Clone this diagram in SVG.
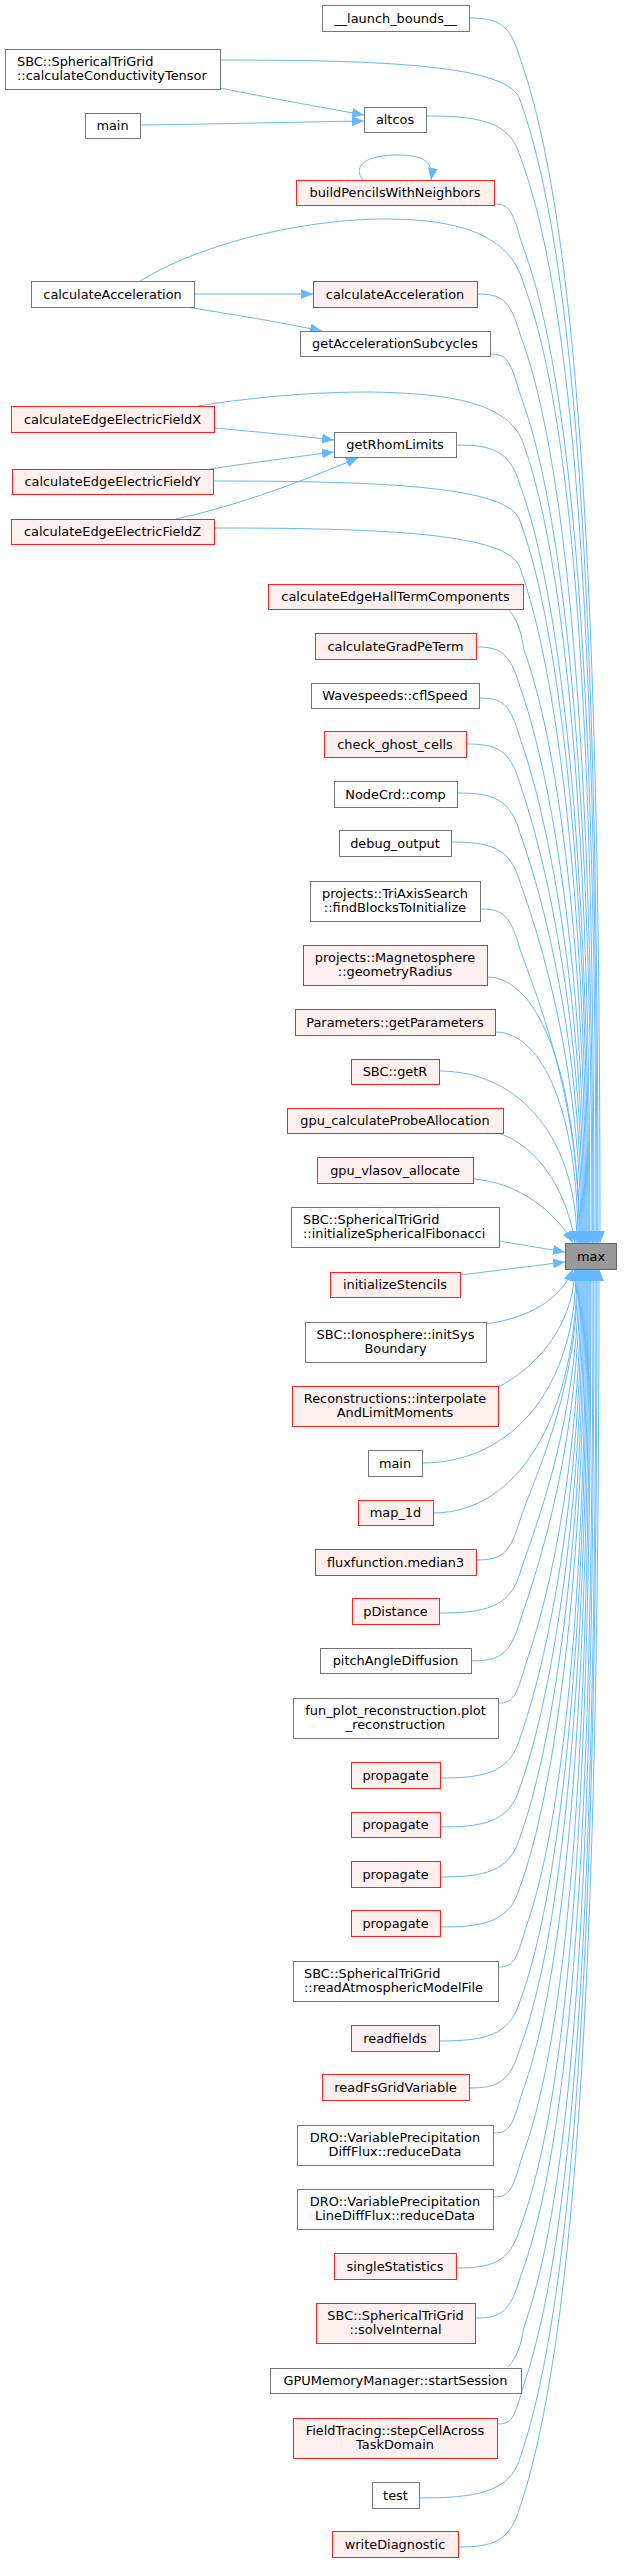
<svg xmlns="http://www.w3.org/2000/svg" width="624" height="2563" viewBox="0 0 624 2563">
<style>
.n rect{fill:#ffffff;stroke:#777777;stroke-width:1}
.r rect{fill:#fff0f0;stroke:#ff2020;stroke-width:1}
.root rect{fill:#999999;stroke:#666666;stroke-width:1}
text{font-family:"DejaVu Sans","Liberation Sans",sans-serif;font-size:12.9px;fill:#000000}
.c{text-anchor:middle}
#edges path{fill:none;stroke:#63b8ff;stroke-width:1;marker-end:url(#ah)}
</style>
<defs>
<marker id="ah" viewBox="0 0 12 10" refX="12" refY="5" markerWidth="12" markerHeight="10" markerUnits="userSpaceOnUse" orient="auto">
<path d="M0,0 L12,5 L0,10 z" fill="#63b8ff"/>
</marker>
</defs>
<rect width="624" height="2563" fill="#ffffff"/>
<g id="edges">
<path d="M469,18 C497,18 510,23 520,58 C583,236 600,650 600,1243"/>
<path d="M220,60 C385,60 510,65 520,100 C582,271 598,671 598,1243"/>
<path d="M426,116 C478,116 510,121 520,156 C581,319 597,699 597,1243"/>
<path d="M494,204 C509,204 512,209 522,244 C579,394 596,744 596,1243"/>
<path d="M140,281 C210,238 320,218 390,219 C470,220 512,240 524,285 C578,429 594,764 594,1243"/>
<path d="M477,294 C501,294 510,299 520,334 C571,470 593,789 593,1243"/>
<path d="M490,354 C506,354 510,359 520,394 C568,521 592,819 592,1243"/>
<path d="M198,406 C260,396 320,392 368,392 C440,393 505,400 522,440 C567,560 590,842 590,1243"/>
<path d="M456,445 C491,445 510,450 520,485 C562,599 589,864 589,1243"/>
<path d="M213,481 C382,481 510,486 520,521 C560,629 588,882 588,1243"/>
<path d="M214,528 C382,528 510,533 520,568 C557,669 587,906 587,1243"/>
<path d="M508,609 C516,617 521,630 524,650 C557,739 586,947 586,1243"/>
<path d="M476,647 C500,647 510,652 520,687 C550,770 585,965 585,1243"/>
<path d="M479,698 C502,698 510,703 520,738 C547,814 584,991 584,1243"/>
<path d="M466,744 C496,744 510,749 520,784 C544,853 583,1014 583,1243"/>
<path d="M457,793 C492,793 510,798 520,833 C542,895 582,1038 582,1243"/>
<path d="M451,842 C489,842 510,847 520,882 C539,936 581,1063 581,1243"/>
<path d="M481,909 C502,909 510,914 520,949 C535,993 580,1096 580,1243"/>
<path d="M487,977 C541,977 579,1083 579,1243"/>
<path d="M495,1032 C544,1032 578,1116 578,1243"/>
<path d="M439,1071 C521,1071 577,1140 577,1243"/>
<path d="M498,1133 C537,1145 567,1190 575,1243"/>
<path d="M473,1179 C518,1182 556,1212 573,1243"/>
<path d="M499,1241 L565,1252"/>
<path d="M460,1275 L565,1262"/>
<path d="M486,1324 C528,1318 561,1300 573,1269"/>
<path d="M498,1387 C532,1370 573,1330 575,1269"/>
<path d="M422,1463 C514,1463 576,1385 576,1269"/>
<path d="M433,1513 C519,1513 577,1415 577,1269"/>
<path d="M476,1560 C500,1560 510,1555 520,1520 C532,1482 578,1394 578,1269"/>
<path d="M439,1613 C484,1613 510,1608 520,1573 C535,1527 579,1421 579,1269"/>
<path d="M471,1661 C498,1661 510,1656 520,1621 C538,1568 580,1445 580,1269"/>
<path d="M498,1703 C513,1703 516,1698 526,1663 C547,1604 581,1466 581,1269"/>
<path d="M440,1778 C484,1778 510,1773 520,1738 C545,1668 582,1503 582,1269"/>
<path d="M440,1827 C484,1827 510,1822 520,1787 C548,1709 583,1528 583,1269"/>
<path d="M440,1877 C484,1877 510,1872 520,1837 C551,1752 584,1553 584,1269"/>
<path d="M440,1927 C484,1927 510,1922 520,1887 C554,1794 585,1578 585,1269"/>
<path d="M498,1967 C513,1967 516,1962 526,1927 C562,1828 586,1598 586,1269"/>
<path d="M439,2041 C484,2041 510,2036 520,2001 C561,1891 587,1635 587,1269"/>
<path d="M469,2088 C497,2088 510,2083 520,2048 C564,1931 588,1658 588,1269"/>
<path d="M493,2133 C509,2133 512,2128 522,2093 C568,1969 589,1681 589,1269"/>
<path d="M493,2197 C509,2197 512,2192 522,2157 C572,2024 590,1713 590,1269"/>
<path d="M456,2268 C491,2268 510,2263 520,2228 C574,2084 591,1748 591,1269"/>
<path d="M475,2318 C500,2318 510,2313 520,2278 C577,2127 593,1773 593,1269"/>
<path d="M508,2367 C516,2359 521,2346 524,2327 C580,2168 594,1798 594,1269"/>
<path d="M497,2424 C512,2424 514,2419 524,2384 C581,2217 596,1826 596,1269"/>
<path d="M419,2498 C474,2498 510,2493 520,2458 C581,2280 597,1863 597,1269"/>
<path d="M458,2547 C492,2547 510,2542 520,2507 C582,2321 599,1888 599,1269"/>
<path d="M220,88 C270,98 320,107 364,115"/>
<path d="M140,125 C220,124 300,122 364,121"/>
<path d="M363,180 C352,166 366,155 397,155 C424,155 434,162 431,180"/>
<path d="M194,294 L313,294"/>
<path d="M186,307 C230,314 280,322 322,331"/>
<path d="M214,428 C260,432 300,436 334,440"/>
<path d="M210,469 C250,463 295,457 334,452"/>
<path d="M176,519 C240,505 300,482 358,458"/>
</g>
<g id="n1" class="n"><rect x="322.5" y="5.5" width="147" height="26"/><text class="c" x="395.5" y="22.5">__launch_bounds__</text></g>
<g id="n2" class="n"><rect x="5.5" y="49.5" width="215" height="40"/><text x="17" y="65.5">SBC::SphericalTriGrid</text><text x="17" y="79.5">::calculateConductivityTensor</text></g>
<g id="n3" class="n"><rect x="85.5" y="113.5" width="55" height="25"/><text class="c" x="112.5" y="130">main</text></g>
<g id="n4" class="n"><rect x="364.5" y="107.5" width="62" height="25"/><text class="c" x="395" y="124">altcos</text></g>
<g id="n5" class="r"><rect x="296.5" y="180.5" width="198" height="25"/><text class="c" x="395" y="197">buildPencilsWithNeighbors</text></g>
<g id="n6" class="n"><rect x="31.5" y="281.5" width="163" height="26"/><text class="c" x="112.5" y="298.5">calculateAcceleration</text></g>
<g id="n7" class="r"><rect x="313.5" y="281.5" width="164" height="26"/><text class="c" x="395" y="298.5">calculateAcceleration</text></g>
<g id="n8" class="n"><rect x="300.5" y="331.5" width="190" height="25"/><text class="c" x="395" y="348">getAccelerationSubcycles</text></g>
<g id="n9" class="r"><rect x="11.5" y="406.5" width="203" height="26"/><text class="c" x="112.5" y="423.5">calculateEdgeElectricFieldX</text></g>
<g id="n10" class="n"><rect x="334.5" y="432.5" width="122" height="25"/><text class="c" x="395" y="449">getRhomLimits</text></g>
<g id="n11" class="r"><rect x="12.5" y="469.5" width="201" height="25"/><text class="c" x="112.5" y="486">calculateEdgeElectricFieldY</text></g>
<g id="n12" class="r"><rect x="11.5" y="519.5" width="203" height="25"/><text class="c" x="112.5" y="536">calculateEdgeElectricFieldZ</text></g>
<g id="n13" class="r"><rect x="268.5" y="584.5" width="255" height="25"/><text class="c" x="395.5" y="601">calculateEdgeHallTermComponents</text></g>
<g id="n14" class="r"><rect x="315.5" y="633.5" width="161" height="26"/><text class="c" x="395.5" y="650.5">calculateGradPeTerm</text></g>
<g id="n15" class="n"><rect x="311.5" y="683.5" width="168" height="25"/><text class="c" x="395" y="700">Wavespeeds::cflSpeed</text></g>
<g id="n16" class="r"><rect x="324.5" y="731.5" width="142" height="26"/><text class="c" x="395" y="748.5">check_ghost_cells</text></g>
<g id="n17" class="n"><rect x="334.5" y="781.5" width="123" height="26"/><text class="c" x="395.5" y="798.5">NodeCrd::comp</text></g>
<g id="n18" class="n"><rect x="339.5" y="830.5" width="112" height="26"/><text class="c" x="395" y="847.5">debug_output</text></g>
<g id="n19" class="n"><rect x="310.5" y="881.5" width="170" height="40"/><text class="c" x="395" y="897.5">projects::TriAxisSearch</text><text class="c" x="395" y="911.5">::findBlocksToInitialize</text></g>
<g id="n20" class="r"><rect x="303.5" y="945.5" width="184" height="40"/><text class="c" x="395" y="961.5">projects::Magnetosphere</text><text class="c" x="395" y="975.5">::geometryRadius</text></g>
<g id="n21" class="r"><rect x="295.5" y="1009.5" width="200" height="26"/><text class="c" x="395" y="1026.5">Parameters::getParameters</text></g>
<g id="n22" class="r"><rect x="351.5" y="1059.5" width="88" height="25"/><text class="c" x="395" y="1076">SBC::getR</text></g>
<g id="n23" class="r"><rect x="287.5" y="1108.5" width="216" height="25"/><text class="c" x="395" y="1125">gpu_calculateProbeAllocation</text></g>
<g id="n24" class="r"><rect x="317.5" y="1157.5" width="156" height="26"/><text class="c" x="395" y="1174.5">gpu_vlasov_allocate</text></g>
<g id="n25" class="n"><rect x="291.5" y="1207.5" width="208" height="40"/><text x="303" y="1223.5">SBC::SphericalTriGrid</text><text x="303" y="1237.5">::initializeSphericalFibonacci</text></g>
<g id="n26" class="root"><rect x="565.5" y="1243.5" width="51" height="26"/><text class="c" x="591" y="1260.5">max</text></g>
<g id="n27" class="r"><rect x="330.5" y="1272.5" width="130" height="25"/><text class="c" x="395" y="1289">initializeStencils</text></g>
<g id="n28" class="n"><rect x="305.5" y="1322.5" width="181" height="40"/><text class="c" x="395.5" y="1338.5">SBC::Ionosphere::initSys</text><text class="c" x="395.5" y="1352.5">Boundary</text></g>
<g id="n29" class="r"><rect x="292.5" y="1386.5" width="206" height="40"/><text class="c" x="395" y="1402.5">Reconstructions::interpolate</text><text class="c" x="395" y="1416.5">AndLimitMoments</text></g>
<g id="n30" class="n"><rect x="368.5" y="1450.5" width="54" height="26"/><text class="c" x="395" y="1467.5">main</text></g>
<g id="n31" class="r"><rect x="358.5" y="1500.5" width="75" height="25"/><text class="c" x="395.5" y="1517">map_1d</text></g>
<g id="n32" class="r"><rect x="315.5" y="1549.5" width="161" height="26"/><text class="c" x="395.5" y="1566.5">fluxfunction.median3</text></g>
<g id="n33" class="r"><rect x="352.5" y="1598.5" width="87" height="26"/><text class="c" x="395.5" y="1615.5">pDistance</text></g>
<g id="n34" class="n"><rect x="320.5" y="1648.5" width="151" height="25"/><text class="c" x="395.5" y="1665">pitchAngleDiffusion</text></g>
<g id="n35" class="n"><rect x="293.5" y="1698.5" width="205" height="40"/><text class="c" x="395.5" y="1714.5">fun_plot_reconstruction.plot</text><text class="c" x="395.5" y="1728.5">_reconstruction</text></g>
<g id="n36" class="r"><rect x="351.5" y="1762.5" width="89" height="26"/><text class="c" x="395.5" y="1779.5">propagate</text></g>
<g id="n37" class="r"><rect x="351.5" y="1812.5" width="89" height="25"/><text class="c" x="395.5" y="1829">propagate</text></g>
<g id="n38" class="r"><rect x="351.5" y="1861.5" width="89" height="26"/><text class="c" x="395.5" y="1878.5">propagate</text></g>
<g id="n39" class="r"><rect x="351.5" y="1910.5" width="89" height="26"/><text class="c" x="395.5" y="1927.5">propagate</text></g>
<g id="n40" class="n"><rect x="293.5" y="1961.5" width="205" height="40"/><text x="304" y="1977.5">SBC::SphericalTriGrid</text><text x="304" y="1991.5">::readAtmosphericModelFile</text></g>
<g id="n41" class="r"><rect x="351.5" y="2025.5" width="88" height="26"/><text class="c" x="395" y="2042.5">readfields</text></g>
<g id="n42" class="r"><rect x="322.5" y="2074.5" width="147" height="26"/><text class="c" x="395.5" y="2091.5">readFsGridVariable</text></g>
<g id="n43" class="n"><rect x="297.5" y="2125.5" width="196" height="40"/><text class="c" x="395" y="2141.5">DRO::VariablePrecipitation</text><text class="c" x="395" y="2155.5">DiffFlux::reduceData</text></g>
<g id="n44" class="n"><rect x="297.5" y="2189.5" width="196" height="40"/><text class="c" x="395" y="2205.5">DRO::VariablePrecipitation</text><text class="c" x="395" y="2219.5">LineDiffFlux::reduceData</text></g>
<g id="n45" class="r"><rect x="334.5" y="2253.5" width="122" height="26"/><text class="c" x="395" y="2270.5">singleStatistics</text></g>
<g id="n46" class="r"><rect x="316.5" y="2303.5" width="159" height="40"/><text class="c" x="395.5" y="2319.5">SBC::SphericalTriGrid</text><text class="c" x="395.5" y="2333.5">::solveInternal</text></g>
<g id="n47" class="n"><rect x="270.5" y="2368.5" width="251" height="25"/><text class="c" x="395.5" y="2385">GPUMemoryManager::startSession</text></g>
<g id="n48" class="r"><rect x="293.5" y="2418.5" width="204" height="40"/><text class="c" x="395" y="2434.5">FieldTracing::stepCellAcross</text><text class="c" x="395" y="2448.5">TaskDomain</text></g>
<g id="n49" class="n"><rect x="372.5" y="2482.5" width="47" height="26"/><text class="c" x="395.5" y="2499.5">test</text></g>
<g id="n50" class="r"><rect x="332.5" y="2531.5" width="126" height="26"/><text class="c" x="395" y="2548.5">writeDiagnostic</text></g>
</svg>
